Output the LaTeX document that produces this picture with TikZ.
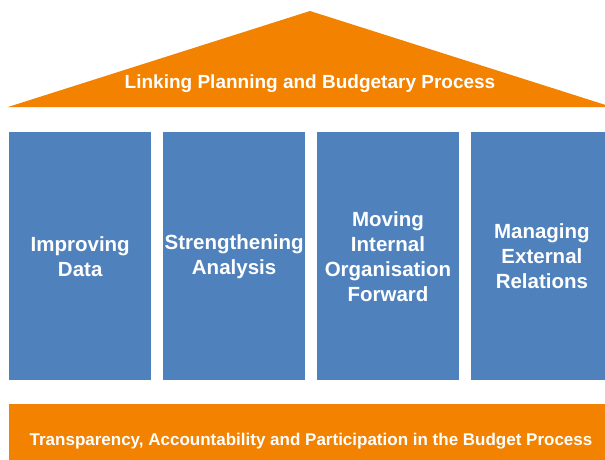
\documentclass[tikz,border=0pt]{standalone}
\usepackage{fontspec}
\setmainfont{Liberation Sans}
\usetikzlibrary{positioning}

\definecolor{roofcol}{RGB}{242,130,0}
\definecolor{pillarcol}{RGB}{79,129,189}

\begin{document}
\begin{tikzpicture}[x=1pt, y=-1pt, node distance=11.5pt]
        \tikzset{
          pillar/.style={fill=pillarcol, text=white, minimum width=142pt, minimum height=248pt,
            inner sep=0pt, align=center, font=\fontsize{20.5}{25}\selectfont\bfseries},
          plinth/.style={fill=roofcol, minimum width=604pt, minimum height=56pt, inner sep=0pt},
          label/.style={text=white, inner sep=0pt, anchor=base}
        }
        \useasboundingbox (0,0) rectangle (605,459);
        \clip (0,0) rectangle (605,459);

        % roof
        \coordinate (apex) at (310,11);
        \coordinate (eaveL) at (8,107);
        \coordinate (eaveR) at (612,107);
        \fill[roofcol] (eaveL) -- (apex) -- (eaveR) -- cycle;
        \node[label, font=\fontsize{19}{22}\selectfont\bfseries] (roof) at (310,88) {Linking Planning and Budgetary Process};

        % pillars
        \node[pillar, anchor=north west] (p_1) at (9,132) {Improving\\Data};
        \node[pillar] (p_2) [right=of p_1] {Strengthening\\Analysis};
        \node[pillar] (p_3) [right=of p_2] {Moving\\Internal\\Organisation\\Forward};
        \node[pillar] (p_4) [right=of p_3] {Managing\\External\\Relations};

        % base
        \node[plinth, anchor=north west] (base) at (9,404) {};
        \node[label, font=\fontsize{17}{20}\selectfont\bfseries] (basetext) at (311,445) {Transparency, Accountability and Participation in the Budget Process};
    \end{tikzpicture}
\end{document}
